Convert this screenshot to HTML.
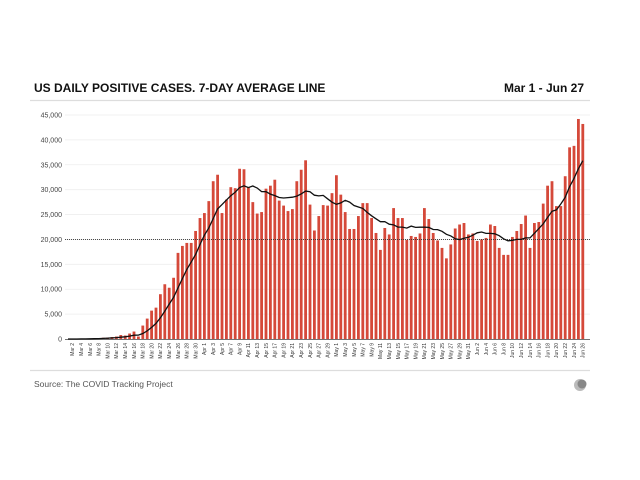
<!DOCTYPE html>
<html><head><meta charset="utf-8"><style>
html,body{margin:0;padding:0;background:#fff;width:640px;height:480px;overflow:hidden}
svg{display:block}
text{font-family:"Liberation Sans",sans-serif}
</style></head><body>
<svg id="c" width="640" height="480" xmlns="http://www.w3.org/2000/svg">
<text x="34" y="92" font-size="12" font-weight="bold" fill="#111">US DAILY POSITIVE CASES. 7-DAY AVERAGE LINE</text>
<text x="584" y="92" font-size="12" font-weight="bold" fill="#111" text-anchor="end">Mar 1 - Jun 27</text>
<line x1="30" y1="100.5" x2="590" y2="100.5" stroke="#ddd" stroke-width="1.2"/>
<line x1="30" y1="370.5" x2="590" y2="370.5" stroke="#ddd" stroke-width="1.2"/>
<text x="34" y="387" font-size="8.5" fill="#555">Source: The COVID Tracking Project</text>
<circle cx="580" cy="385" r="6" fill="#bbb"/>
<circle cx="582" cy="384" r="4.5" fill="#888"/>
<g id="g"></g>
</svg>
<script>
var v=[0,0,0,0.05,0.1,0.1,0.15,0.2,0.25,0.3,0.4,0.5,0.8,0.7,1.1,1.5,0.5,2.7,4.1,5.7,6.3,9.0,11.0,10.3,12.3,17.3,18.7,19.3,19.3,21.7,24.3,25.3,27.7,31.7,33.0,25.3,28,30.5,30.3,34.2,34.1,30.5,27.5,25.2,25.5,30.2,30.8,32,27.8,26.8,25.7,26.1,31.7,34,35.9,27,21.8,24.7,26.9,
26.8,29.3,32.9,29,25.5,22.1,22.1,24.7,27.3,27.3,24.3,21.3,17.9,22.3,21,26.3,24.3,24.3,19.9,20.7,20.5,21.2,26.3,24.1,21.3,19.8,18.3,16.2,19,22.2,23,23.3,21,21.2,19.7,20,20.3,23,22.7,18.3,16.9,16.9,20.5,21.7,23.1,24.8,18.3,23.3,23.5,27.2,30.8,31.7,26.7,26.7,32.7,38.5,38.8,44.2,43.2];
var g=document.getElementById('g'),s='';
var y0=339,k=224/45;
function Y(t){return y0-t*k}
for(var i=0;i<=9;i++){var yy=Y(i*5);
 if(i>0)s+='<line x1="65" x2="590" y1="'+yy+'" y2="'+yy+'" stroke="#eee" stroke-width="0.8"/>';
 s+='<text x="62" y="'+(yy+2.5)+'" font-size="7" fill="#444" text-anchor="end">'+(i==0?'0':(i*5)+',000')+'</text>';}
var dx=4.4,x0=68;
for(var i=0;i<v.length;i++){var x=x0+i*dx,h=v[i]*k;
 s+='<rect x="'+(x-1.4)+'" y="'+(y0-h)+'" width="2.8" height="'+h+'" fill="#d5493a"/>';}
s+='<line x1="65" x2="590" y1="'+Y(20)+'" y2="'+Y(20)+'" stroke="#333" stroke-width="0.8" stroke-dasharray="1,1"/>';
s+='<line x1="65" x2="590" y1="339.5" y2="339.5" stroke="#444" stroke-width="0.8"/>';
var p='';
for(var i=0;i<v.length;i++){var a=0,n=0;for(var j=Math.max(0,i-6);j<=i;j++){a+=v[j];n++}
 p+=(i?'L':'M')+(x0+i*dx).toFixed(1)+','+Y(a/n).toFixed(1);}
s+='<path d="'+p+'" fill="none" stroke="#111" stroke-width="1.3"/>';
var mo=[['Mar',1,31],['Apr',1,30],['May',1,31],['Jun',1,27]],d=0;
for(var m=0;m<4;m++){for(var dd=1;dd<=mo[m][2];dd++){ if(d%2==1){var x=x0+d*dx;
 s+='<text transform="translate('+(x+1.8)+',343) rotate(-90)" font-size="5" fill="#333" text-anchor="end">'+mo[m][0]+' '+dd+'</text>';} d++;}}
g.innerHTML=s;
</script>
</body></html>
